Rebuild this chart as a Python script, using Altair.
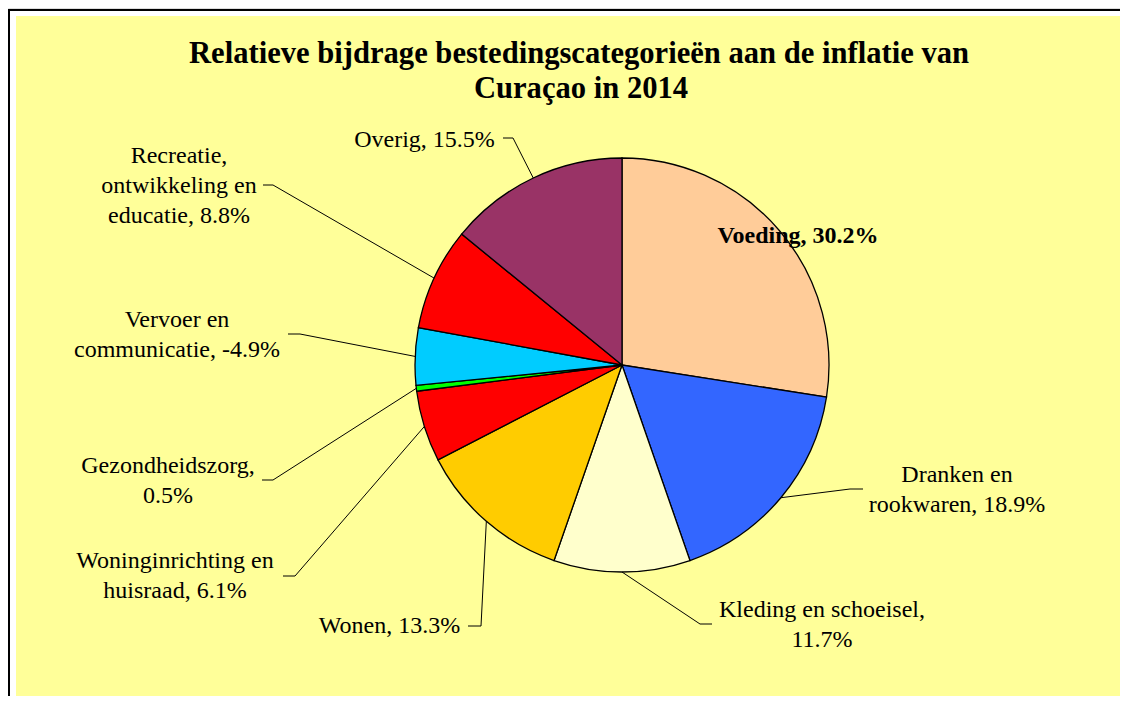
import math
import altair as alt
import pandas as pd

# ---------------- data ----------------
categories = [
    "Voeding", "Dranken en rookwaren", "Kleding en schoeisel", "Wonen",
    "Woninginrichting en huisraad", "Gezondheidszorg", "Vervoer en communicatie",
    "Recreatie, ontwikkeling en educatie", "Overig",
]
values = [30.2, 18.9, 11.7, 13.3, 6.1, 0.5, -4.9, 8.8, 15.5]
label_texts = [
    "Voeding, 30.2%",
    "Dranken en\nrookwaren, 18.9%",
    "Kleding en schoeisel,\n11.7%",
    "Wonen, 13.3%",
    "Woninginrichting en\nhuisraad, 6.1%",
    "Gezondheidszorg,\n0.5%",
    "Vervoer en\ncommunicatie, -4.9%",
    "Recreatie,\nontwikkeling en\neducatie, 8.8%",
    "Overig, 15.5%",
]
title_lines = [
    "Relatieve bijdrage bestedingscategorieën aan de inflatie van",
    "Curaçao in 2014",
]

# ---------------- style / layout ----------------
colors = ["#FFCC99", "#3366FF", "#FFFFCC", "#FFCC00", "#FF0000",
          "#00FF00", "#00CCFF", "#FF0000", "#993366"]
SERIF = "Liberation Serif"
W, H = 1112, 688
OFF = 8
CX, CY, R = 622 - OFF, 365 - OFF, 207
label_pos = [(798, 243), (957, 481.5), (822, 616.5), (389.5, 633), (175, 568),
             (168, 473), (177, 326.5), (179, 162.5), (424.5, 146.5)]
label_bold = [True] + [False] * 8
elbows = [None, (850, 489), (700, 624), (481, 626), (295, 576),
          (273, 480), (300, 334), (273, 185), (513, 138)]
stub_ends = [None, (863, 489), (712, 624), (468, 626), (283, 576),
             (262, 480), (288, 334), (263, 185), (503, 138)]
title_pos = [(579, 63), (581, 98)]

pie_df = pd.DataFrame({
    "cat": categories, "val": values,
    "absval": [abs(v) for v in values], "idx": list(range(len(values))),
})
total = sum(abs(v) for v in values)
rows = []
cum = 0.0
for i, v in enumerate(values):
    mid = (cum + abs(v) / 2) / total * 2 * math.pi
    cum += abs(v)
    if elbows[i] is None:
        continue
    ax = CX + R * math.sin(mid)
    ay = CY - R * math.cos(mid)
    pts = [(ax, ay), (elbows[i][0] - OFF, elbows[i][1] - OFF),
           (stub_ends[i][0] - OFF, stub_ends[i][1] - OFF)]
    for k, (px, py) in enumerate(pts):
        rows.append({"cat": categories[i], "k": k, "px": px, "py": py})
lines_df = pd.DataFrame(rows)

lab_df = pd.DataFrame({
    "text": label_texts,
    "tx": [p[0] - OFF for p in label_pos],
    "ty": [p[1] - OFF for p in label_pos],
    "bold": label_bold,
})
title_df = pd.DataFrame({
    "text": title_lines,
    "tx": [p[0] - OFF for p in title_pos],
    "ty": [p[1] - OFF for p in title_pos],
})

xs = alt.Scale(domain=[0, W], range=[0, W])
ys = alt.Scale(domain=[0, H], range=[0, H])
dummy = pd.DataFrame({"a": [0]})

frame_top = alt.Chart(dummy).mark_rule(color="black", strokeWidth=2).encode(
    x=alt.value(0), x2=alt.value(W + 50), y=alt.value(2))
frame_left = alt.Chart(dummy).mark_rule(color="black", strokeWidth=2).encode(
    x=alt.value(1), y=alt.value(1), y2=alt.value(H + 50))
bg = alt.Chart(dummy).mark_rect(fill="#FFFF99").encode(
    x=alt.value(8), x2=alt.value(W + 50), y=alt.value(8), y2=alt.value(H + 50))

pie = alt.Chart(pie_df).mark_arc(outerRadius=R, stroke="black", strokeWidth=1.3).encode(
    theta=alt.Theta("absval:Q", stack=True),
    order=alt.Order("idx:Q", sort="ascending"),
    color=alt.Color("idx:N", scale=alt.Scale(domain=list(range(len(colors))), range=colors),
                    legend=None),
    x=alt.value(CX), y=alt.value(CY),
)
leaders = alt.Chart(lines_df).mark_line(color="black", strokeWidth=1).encode(
    x=alt.X("px:Q", scale=xs, axis=None), y=alt.Y("py:Q", scale=ys, axis=None),
    detail="cat:N", order="k:Q",
)
labels_plain = alt.Chart(lab_df).transform_filter("!datum.bold").mark_text(
    font=SERIF, fontSize=24, color="black", align="center",
    baseline="alphabetic", lineBreak="\n", lineHeight=30.3,
).encode(
    x=alt.X("tx:Q", scale=xs, axis=None), y=alt.Y("ty:Q", scale=ys, axis=None),
    text="text:N",
)
labels_bold = alt.Chart(lab_df).transform_filter("datum.bold").mark_text(
    font=SERIF, fontSize=24, fontWeight="bold", color="black", align="center",
    baseline="alphabetic",
).encode(
    x=alt.X("tx:Q", scale=xs, axis=None), y=alt.Y("ty:Q", scale=ys, axis=None),
    text="text:N",
)
title = alt.Chart(title_df).mark_text(
    font=SERIF, fontSize=30.6, fontWeight="bold", color="black",
    align="center", baseline="alphabetic",
).encode(
    x=alt.X("tx:Q", scale=xs, axis=None), y=alt.Y("ty:Q", scale=ys, axis=None),
    text="text:N",
)

chart = alt.layer(frame_top, frame_left, bg, pie, leaders, labels_plain, labels_bold, title).properties(
    width=W, height=H, autosize=alt.AutoSizeParams(type="none"), padding=0,
    background="white",
)

chart.save("out.html", embed_options={"renderer": "svg", "actions": False})
